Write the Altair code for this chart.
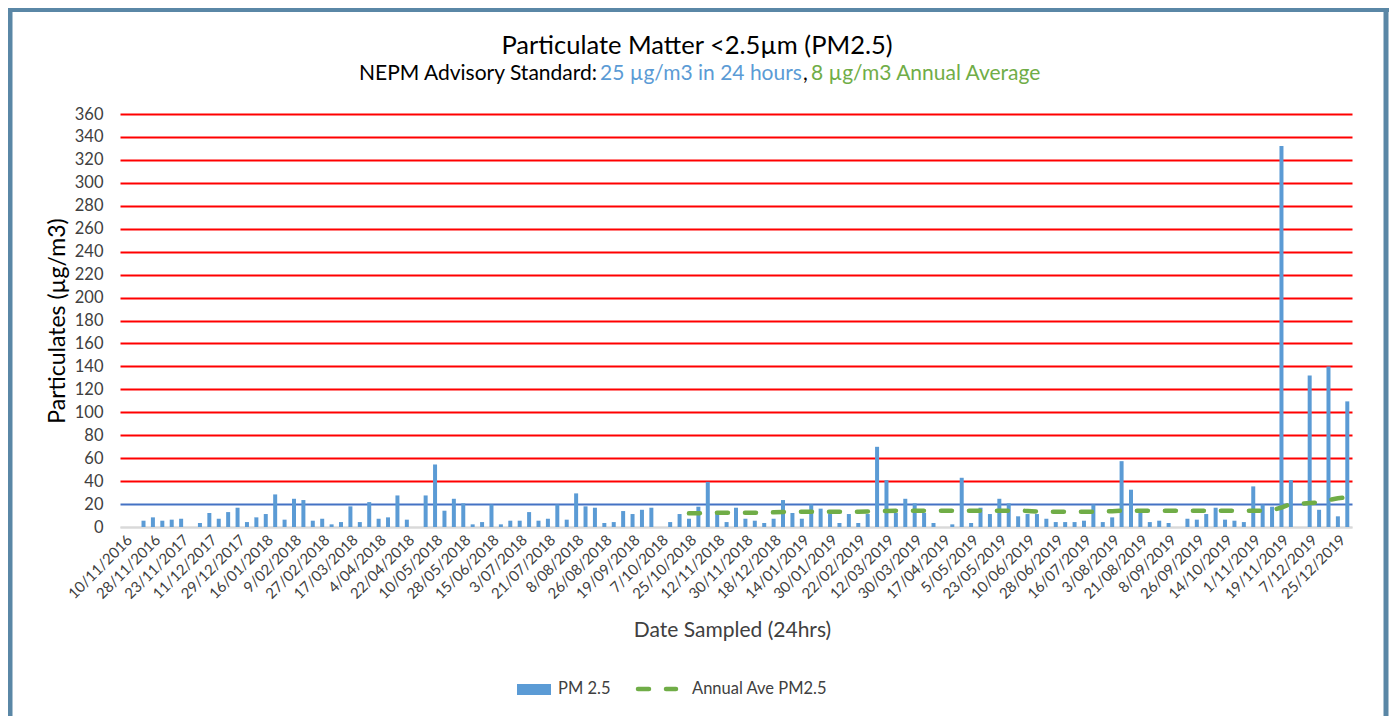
import altair as alt
import pandas as pd

# ---------------- data ----------------
dates = [
    "10/11/2016", "16/11/2016", "22/11/2016", "28/11/2016", "11/11/2017", "17/11/2017",
    "23/11/2017", "29/11/2017", "5/12/2017", "11/12/2017", "17/12/2017", "23/12/2017",
    "29/12/2017", "4/01/2018", "10/01/2018", "16/01/2018", "22/01/2018", "3/02/2018",
    "9/02/2018", "15/02/2018", "21/02/2018", "27/02/2018", "5/03/2018", "11/03/2018",
    "17/03/2018", "23/03/2018", "29/03/2018", "4/04/2018", "10/04/2018", "16/04/2018",
    "22/04/2018", "28/04/2018", "4/05/2018", "10/05/2018", "16/05/2018", "22/05/2018",
    "28/05/2018", "3/06/2018", "9/06/2018", "15/06/2018", "21/06/2018", "27/06/2018",
    "3/07/2018", "9/07/2018", "15/07/2018", "21/07/2018", "27/07/2018", "2/08/2018",
    "8/08/2018", "14/08/2018", "20/08/2018", "26/08/2018", "7/09/2018", "13/09/2018",
    "19/09/2018", "25/09/2018", "1/10/2018", "7/10/2018", "13/10/2018", "19/10/2018",
    "25/10/2018", "31/10/2018", "6/11/2018", "12/11/2018", "18/11/2018", "24/11/2018",
    "30/11/2018", "6/12/2018", "12/12/2018", "18/12/2018", "26/12/2018", "8/01/2019",
    "14/01/2019", "18/01/2019", "24/01/2019", "30/01/2019", "5/02/2019", "16/02/2019",
    "22/02/2019", "28/02/2019", "6/03/2019", "12/03/2019", "18/03/2019", "24/03/2019",
    "30/03/2019", "5/04/2019", "11/04/2019", "17/04/2019", "23/04/2019", "29/04/2019",
    "5/05/2019", "11/05/2019", "17/05/2019", "23/05/2019", "29/05/2019", "4/06/2019",
    "10/06/2019", "16/06/2019", "22/06/2019", "28/06/2019", "4/07/2019", "10/07/2019",
    "16/07/2019", "22/07/2019", "28/07/2019", "3/08/2019", "9/08/2019", "15/08/2019",
    "21/08/2019", "27/08/2019", "2/09/2019", "8/09/2019", "14/09/2019", "20/09/2019",
    "26/09/2019", "2/10/2019", "8/10/2019", "14/10/2019", "20/10/2019", "26/10/2019",
    "1/11/2019", "7/11/2019", "13/11/2019", "19/11/2019", "25/11/2019", "1/12/2019",
    "7/12/2019", "13/12/2019", "19/12/2019", "25/12/2019", "31/12/2019",
]

pm25 = [
    None, None, 5.5, 8.4, 5.5, 6.4, 7.2, None, 3.5, 12.2,
    7.2, 13.0, 16.8, 4.3, 8.4, 11.3, 28.4, 6.4, 24.6, 23.5,
    5.5, 7.2, 2.3, 4.3, 18.0, 4.3, 21.7, 7.2, 8.4, 27.5,
    6.4, None, 27.5, 54.5, 14.2, 24.6, 20.6, 2.3, 4.3, 19.7,
    2.3, 5.5, 5.5, 13.0, 5.5, 7.2, 19.7, 6.4, 29.3, 18.0,
    16.8, 3.5, 4.3, 13.9, 11.3, 15.0, 16.8, None, 4.3, 11.3,
    7.2, 17.7, 39.4, 13.0, 4.3, 16.8, 7.2, 5.5, 3.5, 7.2,
    23.5, 12.2, 7.2, 19.7, 16.0, 11.3, 3.5, 11.3, 3.5, 11.3,
    69.9, 40.9, 12.2, 24.6, 20.6, 12.2, 3.5, None, 2.3, 42.9,
    3.5, 16.8, 11.3, 24.6, 20.6, 9.3, 11.3, 11.3, 7.2, 4.3,
    4.3, 4.3, 5.5, 19.7, 4.3, 8.4, 57.4, 32.5, 15.0, 4.3,
    5.5, 3.5, None, 7.2, 6.4, 11.3, 16.8, 6.4, 5.5, 4.3,
    35.4, 19.7, 17.7, 332.0, 40.9, None, 132.0, 15.0, 140.0, 9.3,
    109.5,
]

# Annual average PM2.5, starting at 25/10/2018
annual_start = "25/10/2018"
annual_ave = [
    11.9, 12.0, 12.2, 12.5, 12.5, 12.5, 12.5, 12.5, 12.6, 12.8,
    13.0, 13.2, 13.3, 13.3, 13.3, 13.3, 13.3, 13.3, 13.3, 13.5,
    13.7, 14.0, 14.2, 14.2, 14.2, 14.2, 14.2, 14.2, 14.2, 14.2,
    14.2, 14.2, 14.2, 14.2, 14.2, 14.2, 14.0, 13.5, 13.3, 13.3,
    13.3, 13.3, 13.3, 13.3, 13.5, 13.8, 14.2, 14.2, 14.2, 14.2,
    14.2, 14.2, 14.2, 14.2, 14.2, 14.2, 14.2, 14.2, 14.2, 14.2,
    14.2, 14.2, 14.5, 17.0, 20.0, 20.4, 20.9, 21.5, 23.5, 25.0,
    26.0,
]

tick_labels = [
    "10/11/2016", "28/11/2016", "23/11/2017", "11/12/2017", "29/12/2017", "16/01/2018",
    "9/02/2018", "27/02/2018", "17/03/2018", "4/04/2018", "22/04/2018", "10/05/2018",
    "28/05/2018", "15/06/2018", "3/07/2018", "21/07/2018", "8/08/2018", "26/08/2018",
    "19/09/2018", "7/10/2018", "25/10/2018", "12/11/2018", "30/11/2018", "18/12/2018",
    "14/01/2019", "30/01/2019", "22/02/2019", "12/03/2019", "30/03/2019", "17/04/2019",
    "5/05/2019", "23/05/2019", "10/06/2019", "28/06/2019", "16/07/2019", "3/08/2019",
    "21/08/2019", "8/09/2019", "26/09/2019", "14/10/2019", "1/11/2019", "19/11/2019",
    "7/12/2019", "25/12/2019",
]
y_ticks = [0, 20, 40, 60, 80, 100, 120, 140, 160, 180, 200, 220, 240, 260, 280, 300, 320, 340, 360]

title_text = "Particulate Matter <2.5µm (PM2.5)"
sub_parts = ["NEPM Advisory Standard: ", "25 µg/m3 in 24 hours", ",", "8 µg/m3 Annual Average"]
legend_labels = ["PM 2.5", "Annual Ave PM2.5"]

# ---------------- table ----------------
start = dates.index(annual_start)
annual_col = [None] * len(dates)
for i, v in enumerate(annual_ave):
    annual_col[start + i] = v
df = pd.DataFrame({"date": dates, "pm25": pm25, "annual": annual_col})

FONT = "Lato"
BLUE = "#5B9BD5"
GREEN = "#70AD47"
TXT = "#404040"

W, H = 1232, 413

x_enc = alt.X(
    "date:N", sort=dates,
    scale=alt.Scale(paddingInner=0, paddingOuter=0),
    axis=alt.Axis(
        values=tick_labels, labelAngle=-45, labelFont=FONT, labelFontSize=15,
        labelColor=TXT, labelOverlap=False, ticks=False, grid=False,
        domainColor="#D9D9D9", domainWidth=2, labelPadding=5,
        title="Date Sampled (24hrs)", titleFont=FONT, titleFontSize=21,
        titleFontWeight="normal", titleColor=TXT, titleX=W / 2 - 4, titleY=103,
        titleBaseline="middle", titleAlign="center",
    ),
)
y_scale = alt.Scale(domain=[0, 360], nice=False)
y_axis = alt.Axis(
    values=y_ticks, grid=True, labelOverlap=False,
    gridColor={"condition": [{"test": "datum.value === 20", "value": "#4472C4"},
                             {"test": "datum.value === 0", "value": "#D9D9D9"}],
               "value": "#FF0000"},
    gridWidth=2, domain=False, ticks=False, labelPadding=17,
    labelFont=FONT, labelFontSize=16.5, labelColor=TXT,
    title="Particulates (µg/m3)", titleFont=FONT, titleFontSize=23,
    titleFontWeight="normal", titleColor="#000000", titleX=-63, titleY=H / 2,
    titleBaseline="middle", titleAlign="center",
)

base = alt.Chart(df)
bars = base.mark_bar(color=BLUE, size=4).encode(
    x=x_enc, y=alt.Y("pm25:Q", scale=y_scale, axis=y_axis)
)
line = base.mark_line(
    color=GREEN, strokeWidth=4.5, strokeDash=[11, 17], strokeCap="round"
).encode(x=x_enc, y=alt.Y("annual:Q", scale=y_scale, axis=y_axis))

one = alt.Chart(pd.DataFrame({"k": [0]}))

def txt(text, x, y, color="#000000", size=16, align="left"):
    return one.mark_text(
        text=text, font=FONT, fontSize=size, color=color, align=align, baseline="alphabetic"
    ).encode(x=alt.value(x), y=alt.value(y))

SUB = 21
title = txt(title_text, 697 - 120, 54 - 114, "#000000", 25.5, "center")
s1 = txt(sub_parts[0], 597 - 120, 80 - 114, "#000000", SUB, "right")
s2 = txt(sub_parts[1], 600 - 120, 80 - 114, BLUE, SUB, "left")
s3 = txt(sub_parts[2], 803 - 120, 80 - 114, "#000000", SUB, "left")
s4 = txt(sub_parts[3], 811 - 120, 80 - 114, GREEN, SUB, "left")

# legend
leg_bar = one.mark_rect(color=BLUE).encode(
    x=alt.value(517 - 120), x2=alt.value(551 - 120), y=alt.value(684 - 114), y2=alt.value(695 - 114)
)
leg_line = one.mark_rule(color=GREEN, strokeWidth=4.5, strokeDash=[11, 17], strokeCap="round").encode(
    x=alt.value(638 - 120), x2=alt.value(676 - 120), y=alt.value(689 - 114)
)
leg_t1 = one.mark_text(text=legend_labels[0], font=FONT, fontSize=16.5, color=TXT, align="left",
                       baseline="middle").encode(x=alt.value(558 - 120), y=alt.value(689 - 114))
leg_t2 = one.mark_text(text=legend_labels[1], font=FONT, fontSize=16.5, color=TXT, align="left",
                       baseline="middle").encode(x=alt.value(692 - 120), y=alt.value(689 - 114))

# frame
FRAME = "#5A87A6"
frame_l = one.mark_rule(color=FRAME, strokeWidth=5).encode(
    x=alt.value(10 - 120), y=alt.value(8 - 114), y2=alt.value(716 - 114))
frame_r = one.mark_rule(color=FRAME, strokeWidth=5).encode(
    x=alt.value(1386 - 120), y=alt.value(8 - 114), y2=alt.value(716 - 114))
frame_t = one.mark_rule(color=FRAME, strokeWidth=4).encode(
    x=alt.value(8 - 120), x2=alt.value(1389 - 120), y=alt.value(10 - 114))

chart = alt.layer(
    bars, line, title, s1, s2, s3, s4, leg_bar, leg_line, leg_t1, leg_t2,
    frame_l, frame_r, frame_t,
).properties(
    width=W, height=H,
    autosize=alt.AutoSizeParams(type="none"),
    padding={"left": 112, "top": 106, "right": 37, "bottom": 189},
    background="white",
).configure_view(stroke=None)

chart.save("out.html", embed_options={"renderer": "svg", "actions": False})
